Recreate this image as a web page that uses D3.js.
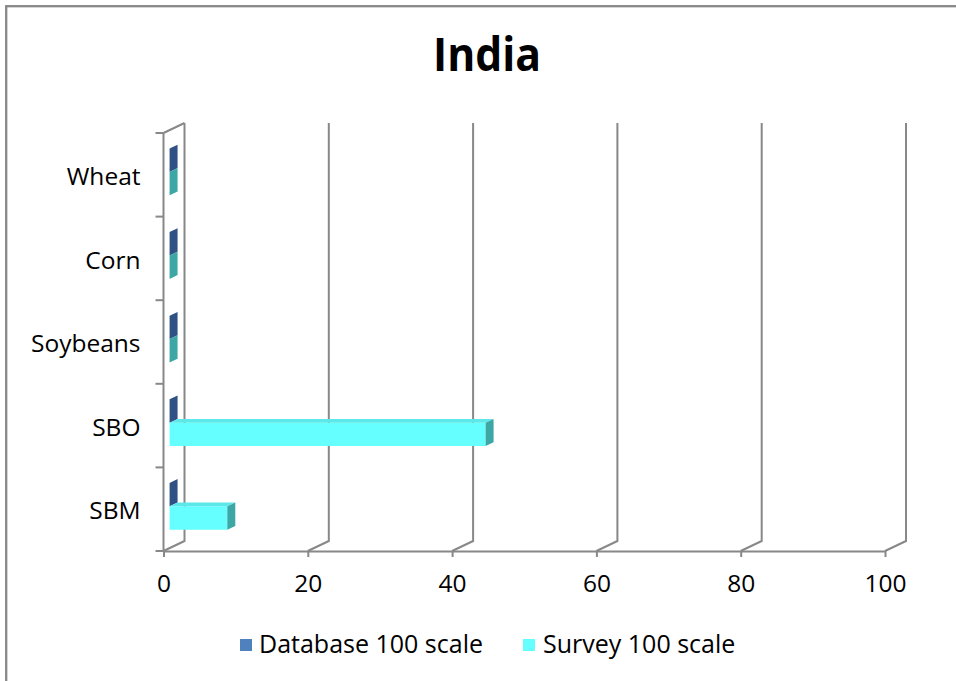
<!DOCTYPE html>
<html>
<head>
<meta charset="utf-8">
<script src="https://cdn.jsdelivr.net/npm/d3@7"></script>
<style>
  html, body { margin: 0; padding: 0; background: #fff; }
  svg { display: block; }
  text { font-family: "Open Sans", "DejaVu Sans", sans-serif; fill: #000; }
</style>
</head>
<body>
<svg id="chart" width="956" height="681"></svg>
<script>
// ---- data ----
const title = "India";
const categories = ["Wheat", "Corn", "Soybeans", "SBO", "SBM"];
const seriesNames = ["Database 100 scale", "Survey 100 scale"];
const databaseValues = [0, 0, 0, 0, 0];
const surveyValues = [0, 0, 0, 43.8, 8.0];
const xTicks = [0, 20, 40, 60, 80, 100];

// ---- styles ----
const gridColor = "#888888";
const faces = {
  "Database 100 scale": { front: "#4f81bd", top: "#4573a8", side: "#2f5183", legend: "#4f81bd" },
  "Survey 100 scale":   { front: "#66ffff", top: "#5ce8e8", side: "#3ca7a4", legend: "#66ffff" }
};

const svg = d3.select("#chart");

// outer border
svg.append("rect").attr("x", 6.2).attr("y", 6.2).attr("width", 1000).attr("height", 1000)
  .attr("fill", "#fff").attr("stroke", gridColor).attr("stroke-width", 2.3);

// title
svg.append("text").attr("x", 487).attr("y", 71).attr("text-anchor", "middle")
  .attr("font-size", 46).attr("font-weight", "bold")
  .attr("textLength", 108).attr("lengthAdjust", "spacingAndGlyphs")
  .text(title);

// ---- scales ----
const x = d3.scaleLinear().domain([0, 100]).range([163.5, 885]);
const y = d3.scaleBand().domain(categories).range([133, 551]).paddingInner(0).paddingOuter(0);
const ys = d3.scaleBand().domain(seriesNames).range([0, y.bandwidth()]).paddingInner(0).paddingOuter(0.786);

// 3D depth projection
const DX = 21, DY = -10;
const d0 = 0.29, d1 = 0.67;
const yBase = y.range()[1], yTop = y.range()[0];

const g = svg.append("g");

// back wall gridlines (vertical) + floor diagonals
xTicks.forEach(t => {
  const px = x(t);
  g.append("path")
    .attr("d", `M${px},${yBase} L${px + DX},${yBase + DY} L${px + DX},${yTop + DY}`)
    .attr("fill", "none").attr("stroke", gridColor).attr("stroke-width", 2);
});
// left wall: top diagonal
g.append("path")
  .attr("d", `M${x(0)},${yTop} L${x(0) + DX},${yTop + DY}`)
  .attr("fill", "none").attr("stroke", gridColor).attr("stroke-width", 2);

// front left axis line
g.append("line").attr("x1", x(0)).attr("x2", x(0)).attr("y1", yTop).attr("y2", yBase)
  .attr("stroke", gridColor).attr("stroke-width", 2);

// category boundary ticks
const bounds = categories.map(c => y(c)).concat([yBase]);
g.selectAll(".ctick").data(bounds).join("line")
  .attr("x1", x(0) - 8).attr("x2", x(0)).attr("y1", d => d).attr("y2", d => d)
  .attr("stroke", gridColor).attr("stroke-width", 2);

// x axis
const xAxis = d3.axisBottom(x).tickValues(xTicks).tickSize(6).tickSizeOuter(0).tickPadding(18);
const xg = svg.append("g").attr("transform", `translate(0,${yBase})`).call(xAxis);
xg.select(".domain").attr("stroke", gridColor).attr("stroke-width", 2);
xg.selectAll(".tick line").attr("stroke", gridColor).attr("stroke-width", 2);
xg.selectAll(".tick text").attr("font-size", 24.5).attr("fill", "#000")
  .attr("font-family", "'Open Sans', sans-serif").attr("dy", "0.71em");

// y labels
const yAxis = d3.axisLeft(y).tickSize(0).tickPadding(23);
const yg = svg.append("g").attr("transform", `translate(${x(0)},0)`).call(yAxis);
yg.select(".domain").remove();
yg.selectAll(".tick text").attr("font-size", 24.5).attr("fill", "#000")
  .attr("font-family", "'Open Sans', sans-serif").attr("dy", "0.42em");

// ---- bars ----
const rows = [];
categories.forEach((c, i) => {
  rows.push({ cat: c, series: seriesNames[0], value: databaseValues[i] });
  rows.push({ cat: c, series: seriesNames[1], value: surveyValues[i] });
});

const sx = DX * d0, sy = DY * d0;     // shift of front face plane
const bx = DX * (d1 - d0), by = DY * (d1 - d0); // bar depth

const bars = svg.append("g");
rows.forEach(r => {
  const f = faces[r.series];
  const x0 = x(0) + sx, x1 = x(r.value) + sx;
  const t = y(r.cat) + ys(r.series) + sy;
  const b = t + ys.bandwidth();
  const bg = bars.append("g");
  // front face
  if (x1 > x0) {
    bg.append("path").attr("d", `M${x0},${t} L${x1},${t} L${x1},${b} L${x0},${b} Z`).attr("fill", f.front);
    // top face
    bg.append("path").attr("d", `M${x0},${t} L${x0 + bx},${t + by} L${x1 + bx},${t + by} L${x1},${t} Z`).attr("fill", f.top);
  }
  // right side face
  bg.append("path").attr("d", `M${x1},${t} L${x1 + bx},${t + by} L${x1 + bx},${b + by} L${x1},${b} Z`).attr("fill", f.side);
});

// ---- legend ----
const legendItems = [
  { name: seriesNames[0], sx: 240, tx: 259 },
  { name: seriesNames[1], sx: 523, tx: 543 }
];
const lg = svg.append("g");
legendItems.forEach(it => {
  lg.append("rect").attr("x", it.sx).attr("y", 639).attr("width", 12).attr("height", 12)
    .attr("fill", faces[it.name].legend);
  lg.append("text").attr("x", it.tx).attr("y", 653).attr("font-size", 25).text(it.name);
});
</script>
</body>
</html>
